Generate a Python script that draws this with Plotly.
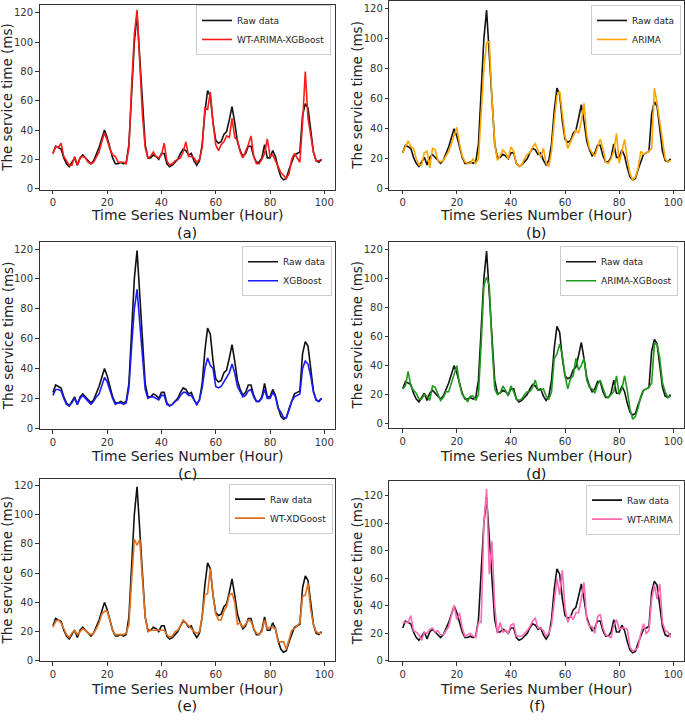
import plotly.graph_objects as go

W, H = 685, 721

hours = list(range(100))

raw = [24, 29, 28, 27, 21, 17, 15, 18, 21, 16,
       21, 23, 21, 19, 17, 19, 23, 28, 34, 40,
       35, 27, 21, 17, 17, 18, 17, 18, 30, 65,
       100, 119, 90, 55, 30, 21, 21, 23, 22, 20,
       24, 24, 17, 15, 16, 18, 20, 24, 27, 26,
       23, 24, 19, 16, 19, 30, 52, 67, 63, 45,
       33, 31, 32, 37, 39, 47, 56, 45, 32, 26,
       22, 24, 29, 29, 22, 18, 18, 21, 30, 21,
       21, 26, 22, 14, 8, 6, 7, 13, 18, 23,
       24, 25, 50, 58, 55, 40, 25, 19, 18, 20]

wt_arima_xgb = [24, 29, 28, 31, 22, 19, 16, 16, 22, 16,
                21, 22, 21, 18, 17, 18, 22, 25, 32, 38,
                33, 27, 23, 22, 18, 18, 18, 17, 28, 70,
                105, 122, 85, 50, 28, 21, 22, 25, 22, 21,
                23, 31, 19, 16, 17, 19, 20, 21, 25, 32,
                22, 22, 21, 18, 20, 28, 55, 54, 66, 45,
                30, 26, 30, 32, 36, 35, 48, 35, 33, 25,
                21, 25, 30, 36, 22, 17, 17, 20, 24, 34,
                22, 23, 19, 15, 11, 9, 7, 10, 20, 24,
                21, 18, 45, 80, 48, 35, 25, 19, 19, 20]

arima = [24, 28, 32, 28, 27, 20, 16, 16, 24, 25,
         14, 27, 26, 19, 18, 19, 22, 25, 30, 36,
         41, 30, 22, 18, 17, 17, 20, 17, 20, 50,
         80, 97, 98, 60, 30, 19, 22, 26, 24, 20,
         28, 25, 17, 15, 16, 20, 23, 24, 28, 30,
         25, 21, 27, 17, 15, 25, 45, 62, 65, 48,
         35, 27, 31, 34, 39, 37, 45, 57, 36, 27,
         24, 22, 28, 33, 27, 18, 17, 20, 25, 37,
         17, 24, 33, 20, 10, 6, 8, 14, 25, 23,
         24, 25, 27, 67, 57, 45, 30, 20, 18, 19]

xgb = [22, 26, 26, 25, 20, 16, 15, 17, 20, 16,
       20, 22, 20, 18, 16, 18, 21, 23, 29, 34,
       31, 25, 20, 16, 17, 17, 16, 17, 27, 55,
       80, 93, 70, 45, 26, 20, 21, 21, 20, 19,
       22, 22, 16, 15, 16, 18, 19, 22, 24, 24,
       22, 22, 19, 16, 19, 27, 40, 47, 42, 40,
       28, 27, 28, 31, 34, 37, 43, 37, 28, 24,
       21, 22, 25, 26, 21, 18, 18, 20, 26, 20,
       20, 24, 21, 13, 11, 7, 7, 12, 18, 21,
       22, 23, 40, 45, 43, 35, 24, 19, 18, 20]

arima_xgb = [24, 26, 36, 26, 23, 21, 17, 17, 20, 19,
             16, 26, 25, 21, 16, 18, 22, 22, 28, 33,
             40, 27, 20, 18, 15, 19, 19, 16, 20, 55,
             95, 101, 95, 55, 24, 20, 21, 26, 23, 19,
             26, 22, 17, 16, 17, 20, 22, 22, 25, 30,
             23, 23, 24, 19, 17, 22, 45, 48, 55, 47,
             33, 24, 31, 33, 45, 37, 40, 45, 30, 25,
             24, 21, 27, 30, 24, 19, 18, 20, 22, 33,
             20, 24, 33, 23, 10, 3, 5, 11, 19, 23,
             24, 25, 28, 55, 55, 45, 28, 22, 18, 19]

wt_xgb = [23, 27, 28, 26, 22, 18, 16, 19, 21, 18,
          20, 22, 21, 19, 18, 19, 22, 26, 32, 34,
          34, 28, 21, 18, 18, 18, 18, 19, 25, 55,
          83, 79, 83, 55, 30, 20, 21, 21, 21, 21,
          21, 21, 18, 16, 17, 20, 21, 24, 28, 26,
          24, 22, 20, 19, 20, 30, 45, 46, 63, 45,
          32, 28, 28, 34, 37, 45, 46, 40, 25, 26,
          23, 25, 28, 27, 22, 19, 18, 20, 28, 22,
          23, 23, 22, 13, 13, 13, 8, 14, 21, 22,
          24, 26, 44, 45, 53, 35, 25, 20, 19, 19]

wt_arima = [28, 28, 28, 33, 22, 21, 19, 15, 21, 20,
            23, 24, 21, 22, 19, 19, 22, 25, 33, 40,
            30, 35, 24, 18, 19, 20, 18, 17, 28, 28,
            100, 125, 63, 87, 40, 20, 28, 21, 22, 20,
            26, 27, 18, 18, 18, 20, 22, 25, 29, 31,
            24, 24, 22, 18, 20, 26, 45, 60, 48, 66,
            38, 28, 33, 30, 35, 35, 45, 57, 30, 25,
            25, 20, 32, 34, 24, 19, 18, 17, 26, 30,
            23, 24, 24, 23, 10, 7, 8, 10, 20, 27,
            20, 22, 45, 55, 45, 56, 28, 22, 21, 17]

y_ticks = [0, 20, 40, 60, 80, 100, 120]
x_ticks = [0, 20, 40, 60, 80, 100]

# name, series, colour, label, plot box px (left, top, right, bottom), y range, legend (right, top), xtitle y, label y
panels = [
    ("WT-ARIMA-XGBoost", wt_arima_xgb, "#ff1a1a", "(a)", (39.5, 5, 335, 191), (-0.7, 125.4), (331, 5), 217, 235),
    ("ARIMA", arima, "#ffa500", "(b)", (389.3, 1, 684, 191), (-0.5, 125.0), (681, 5), 217, 235),
    ("XGBoost", xgb, "#1a1aff", "(c)", (39.5, 244, 335, 432), (-0.5, 124.5), (332, 248), 459, 477),
    ("ARIMA-XGBoost", arima_xgb, "#1f9a1f", "(d)", (389.3, 244, 684, 431), (-3.0, 125.0), (678, 248), 459, 477),
    ("WT-XDGoost", wt_xgb, "#e07020", "(e)", (39.5, 482, 335, 666), (-0.3, 124.5), (333, 487), 694, 711),
    ("WT-ARIMA", wt_arima, "#ff69b4", "(f)", (389.3, 484, 684, 666), (-0.3, 131.0), (680, 488), 694, 711),
]

fig = go.Figure()
annotations = []
for i, (name, ser, col, lab, box, yr, leg, xt_y, lab_y) in enumerate(panels):
    k = "" if i == 0 else str(i + 1)
    l, t, r, b = box
    common = dict(ticks="outside", ticklen=3.5, tickwidth=1, tickcolor="#333",
                  showline=True, linecolor="#333", linewidth=1, mirror=True, showgrid=False,
                  zeroline=False, ticklabeloverflow="allow",
                  tickfont=dict(size=10, color="#333", family="DejaVu Sans"))
    xa = dict(domain=[l / W, r / W], anchor="y" + k, range=[-4.95, 103.95], tickvals=x_ticks, **common)
    ya = dict(domain=[1 - b / H, 1 - t / H], anchor="x" + k, range=list(yr), tickvals=y_ticks, **common)
    fig.update_layout(**{"xaxis" + k: xa, "yaxis" + k: ya})
    lg = "legend" + k
    fig.add_trace(go.Scatter(x=hours, y=raw, mode="lines", name="Raw data",
                             line=dict(color="#111", width=1.6), xaxis="x" + k, yaxis="y" + k,
                             legend=lg))
    fig.add_trace(go.Scatter(x=hours, y=ser, mode="lines", name=name,
                             line=dict(color=col, width=1.6), xaxis="x" + k, yaxis="y" + k,
                             legend=lg))
    fig.update_layout(**{lg: dict(x=leg[0] / W, y=1 - leg[1] / H, xanchor="right", yanchor="top",
                                  bgcolor="rgba(255,255,255,0.9)", bordercolor="#cccccc", borderwidth=1,
                                  font=dict(size=9, color="#222", family="DejaVu Sans"),
                                  tracegroupgap=0, itemwidth=30)})
    cx = (l + r) / 2 / W
    annotations.append(dict(text="Time Series Number (Hour)", x=cx, y=1 - xt_y / H, xref="paper", yref="paper",
                            showarrow=False, xanchor="center", yanchor="middle",
                            font=dict(size=14, color="#222", family="DejaVu Sans")))
    annotations.append(dict(text=lab, x=cx, y=1 - lab_y / H, xref="paper", yref="paper",
                            showarrow=False, xanchor="center", yanchor="middle",
                            font=dict(size=14.5, color="#111", family="DejaVu Sans")))
    annotations.append(dict(text="The service time (ms)", x=(l - 32) / W, y=1 - (t + b) / 2 / H,
                            xref="paper", yref="paper", showarrow=False, textangle=-90,
                            xanchor="center", yanchor="middle",
                            font=dict(size=13.5, color="#222", family="DejaVu Sans")))

fig.update_layout(width=W, height=H, margin=dict(l=0, r=0, t=0, b=0),
                  paper_bgcolor="white", plot_bgcolor="white", annotations=annotations)

fig.write_html("out.html", config={"displayModeBar": False},
               post_script="document.body.style.margin='0';document.body.style.padding='0';")
